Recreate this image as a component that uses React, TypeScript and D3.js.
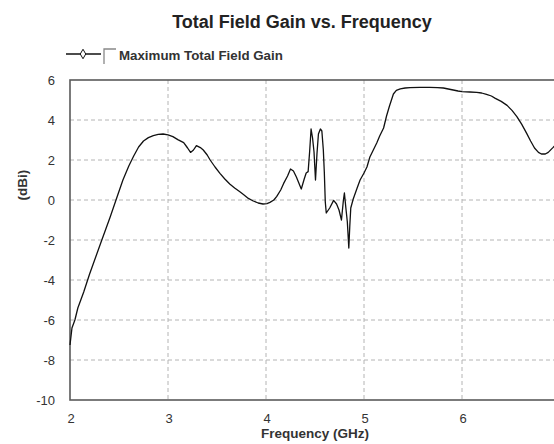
import React, { useEffect, useRef } from "react";
import * as d3 from "d3";

// frequency samples (GHz) and max total field gain (dBi)
const freqGHz = [
  2.0, 2.02, 2.05, 2.08, 2.14, 2.2, 2.31, 2.41, 2.48, 2.54, 2.6, 2.65, 2.7, 2.75,
  2.8, 2.85, 2.9, 2.95, 3.0, 3.05, 3.1, 3.16, 3.2, 3.23, 3.26, 3.29, 3.33, 3.36,
  3.4, 3.43, 3.48, 3.53, 3.58, 3.63, 3.68, 3.73, 3.77, 3.82, 3.87, 3.92, 3.97,
  4.01, 4.04, 4.08, 4.11, 4.15, 4.18, 4.22, 4.25, 4.28, 4.31, 4.36, 4.39, 4.41,
  4.43, 4.445, 4.46, 4.475, 4.49, 4.505, 4.52, 4.535, 4.555, 4.57, 4.585, 4.595,
  4.605, 4.615, 4.65, 4.69, 4.72, 4.745, 4.77, 4.79, 4.8, 4.815, 4.83, 4.845,
  4.855, 4.865, 4.89, 4.93, 4.96, 5.0, 5.03, 5.06, 5.1, 5.13, 5.16, 5.2, 5.23,
  5.26, 5.3, 5.33, 5.37, 5.42, 5.47, 5.57, 5.67, 5.75, 5.81, 5.86, 5.91, 5.96,
  6.0, 6.08, 6.15, 6.2, 6.25, 6.3, 6.34, 6.4, 6.46, 6.51, 6.56, 6.61, 6.66, 6.7,
  6.74, 6.78, 6.81, 6.85, 6.88, 6.93, 6.97, 7.0,
];
const gainDbi = [
  -7.25, -6.4, -6.0, -5.4, -4.6, -3.7, -2.2, -0.85, 0.15, 1.0, 1.7, 2.2, 2.65,
  2.95, 3.12, 3.22, 3.28, 3.3, 3.26, 3.17, 3.02, 2.87, 2.6, 2.38, 2.5, 2.72,
  2.62, 2.5, 2.25, 2.0, 1.65, 1.33, 1.05, 0.8, 0.6, 0.42, 0.27, 0.08, -0.05,
  -0.15, -0.2, -0.18, -0.12, 0.0, 0.18, 0.5, 0.83, 1.2, 1.55, 1.45, 1.15, 0.55,
  1.05, 1.35, 1.42, 2.4, 3.55, 3.1, 2.4, 1.0, 2.3, 3.3, 3.55, 3.45, 2.5, 1.4,
  -0.1, -0.65, -0.4, -0.02, -0.2, -0.5, -1.0, 0.0, 0.35, -0.4, -1.1, -2.4, -1.3,
  -0.4, 0.05, 0.6, 1.0, 1.35, 1.65, 2.15, 2.55, 2.85, 3.2, 3.6, 4.2, 4.7, 5.3,
  5.48, 5.56, 5.6, 5.62, 5.63, 5.63, 5.62, 5.6, 5.55, 5.5, 5.45, 5.42, 5.4, 5.38,
  5.35, 5.28, 5.2, 5.08, 4.93, 4.73, 4.48, 4.17, 3.78, 3.33, 2.95, 2.6, 2.38,
  2.3, 2.3, 2.38, 2.63, 2.85, 3.0,
];
const xTicks = [2, 3, 4, 5, 6, 7];
const yTicks = [6, 4, 2, 0, -2, -4, -6, -8, -10];

const W = 554;
const H = 444;
const FONT = "'Liberation Sans', Arial, sans-serif";

const App = () => {
  const ref = useRef<SVGSVGElement>(null);

  useEffect(() => {
    const svg = d3.select(ref.current);
    svg.selectAll("*").remove();

    const left = 70, right = 560, top = 80, bottom = 400;
    const x = d3.scaleLinear().domain([2, 7]).range([left, right]);
    const y = d3.scaleLinear().domain([-10, 6]).range([bottom, top]);

    svg.append("rect").attr("width", W).attr("height", H).attr("fill", "#fff");

    // grid
    svg
      .selectAll(".vgrid")
      .data(xTicks.slice(1))
      .enter()
      .append("line")
      .attr("x1", (d) => x(d))
      .attr("x2", (d) => x(d))
      .attr("y1", top)
      .attr("y2", bottom)
      .attr("stroke", "#b4b4b4")
      .attr("stroke-dasharray", "4,3");
    svg
      .selectAll(".hgrid")
      .data(yTicks.slice(1, -1))
      .enter()
      .append("line")
      .attr("x1", left)
      .attr("x2", right)
      .attr("y1", (d) => y(d))
      .attr("y2", (d) => y(d))
      .attr("stroke", "#b4b4b4")
      .attr("stroke-dasharray", "4,3");

    // frame
    svg
      .append("rect")
      .attr("x", left)
      .attr("y", top)
      .attr("width", right - left)
      .attr("height", bottom - top)
      .attr("fill", "none")
      .attr("stroke", "#5a5a5a")
      .attr("stroke-width", 1.6);

    // curve
    const line = d3
      .line<number>()
      .x((d) => x(d))
      .y((_, i) => y(gainDbi[i]));
    svg
      .append("path")
      .attr("d", line(freqGHz))
      .attr("fill", "none")
      .attr("stroke", "#111")
      .attr("stroke-width", 1.3)
      .attr("stroke-linejoin", "round");

    // tick labels
    svg
      .selectAll(".ylab")
      .data(yTicks)
      .enter()
      .append("text")
      .attr("x", 55)
      .attr("y", (d) => y(d) + 5)
      .attr("text-anchor", "end")
      .attr("font-family", FONT)
      .attr("font-size", 13)
      .attr("fill", "#333")
      .text((d) => d);
    svg
      .selectAll(".xlab")
      .data(xTicks)
      .enter()
      .append("text")
      .attr("x", (d) => x(d) + 1)
      .attr("y", 423)
      .attr("text-anchor", "middle")
      .attr("font-family", FONT)
      .attr("font-size", 13)
      .attr("fill", "#333")
      .text((d) => d);

    // titles
    svg
      .append("text")
      .attr("x", 302)
      .attr("y", 28)
      .attr("text-anchor", "middle")
      .attr("font-family", FONT)
      .attr("font-weight", "bold")
      .attr("font-size", 18)
      .attr("fill", "#222")
      .text("Total Field Gain vs. Frequency");
    svg
      .append("text")
      .attr("x", (left + right) / 2)
      .attr("y", 438)
      .attr("text-anchor", "middle")
      .attr("font-family", FONT)
      .attr("font-weight", "bold")
      .attr("font-size", 13.5)
      .attr("fill", "#333")
      .text("Frequency (GHz)");
    svg
      .append("text")
      .attr("transform", "translate(27,185) rotate(-90)")
      .attr("text-anchor", "middle")
      .attr("font-family", FONT)
      .attr("font-weight", "bold")
      .attr("font-size", 13.5)
      .attr("fill", "#333")
      .text("(dBi)");

    // legend
    const lg = svg.append("g");
    lg.append("line")
      .attr("x1", 66)
      .attr("x2", 101)
      .attr("y1", 54)
      .attr("y2", 54)
      .attr("stroke", "#111")
      .attr("stroke-width", 1.3);
    lg.append("path")
      .attr("d", d3.symbol(d3.symbolDiamond, 26)())
      .attr("transform", "translate(83,54)")
      .attr("fill", "#fff")
      .attr("stroke", "#111");
    lg.append("path")
      .attr("d", "M104,64 V49 H116")
      .attr("fill", "none")
      .attr("stroke", "#888")
      .attr("stroke-width", 1.3);
    lg.append("text")
      .attr("x", 119)
      .attr("y", 60)
      .attr("font-family", FONT)
      .attr("font-weight", "bold")
      .attr("font-size", 13.3)
      .attr("fill", "#333")
      .text("Maximum Total Field Gain");
  }, []);

  return (
    <svg
      ref={ref}
      width={W}
      height={H}
      style={{ position: "absolute", left: 0, top: 0, display: "block" }}
    ></svg>
  );
};

export default App;
